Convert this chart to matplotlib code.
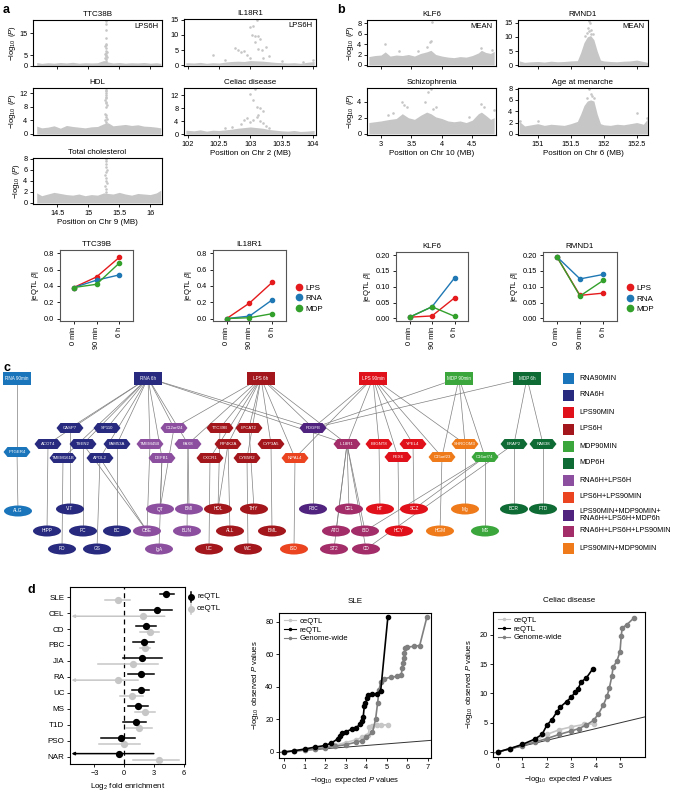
import matplotlib
matplotlib.use("Agg")
import matplotlib.pyplot as plt
from matplotlib.patches import Ellipse, Polygon, Rectangle

plt.rcParams["font.family"] = ["Liberation Sans", "DejaVu Sans"]
plt.rcParams["mathtext.fontset"] = "custom"
plt.rcParams["mathtext.rm"] = "Liberation Sans"
plt.rcParams["mathtext.it"] = "Liberation Sans:italic"
plt.rcParams["font.size"] = 5.5
plt.rcParams["axes.linewidth"] = 0.8
plt.rcParams["xtick.major.size"] = 2.5
plt.rcParams["ytick.major.size"] = 2.5
plt.rcParams["xtick.major.width"] = 0.6
plt.rcParams["ytick.major.width"] = 0.6
plt.rcParams["xtick.major.pad"] = 1.5
plt.rcParams["ytick.major.pad"] = 1.5
plt.rcParams["xtick.labelsize"] = 5.3
plt.rcParams["ytick.labelsize"] = 5.3

# ---------------- panel a/b : regional association plots ----------------
x9 = [14.17, 14.25, 14.35, 14.45, 14.55, 14.65, 14.75, 14.85, 14.95, 15.05, 15.15,
      15.25, 15.32, 15.4, 15.5, 15.6, 15.7, 15.8, 15.9, 16.0, 16.1, 16.17]
ttc_env = [1.6, 1.2, 1.5, 1.3, 1.6, 1.4, 1.7, 1.3, 1.5, 1.4, 1.5, 2.5, 1.8, 1.4, 1.6,
           1.3, 1.5, 1.4, 1.6, 1.3, 1.5, 1.2]
hdl_env = [2.3, 1.8, 2.0, 2.4, 1.7, 2.5, 2.2, 2.0, 1.8, 2.1, 2.2, 3.0, 3.3, 2.4, 2.6,
           2.8, 2.5, 2.7, 2.3, 2.2, 2.0, 1.8]
tc_env = [1.8, 1.3, 1.6, 1.9, 1.7, 1.5, 1.4, 1.6, 1.3, 1.5, 1.4, 1.8, 1.7, 1.6, 1.9,
          1.6, 1.4, 1.7, 1.6, 1.5, 1.8, 2.3]
ttc_pk_x = [15.28, 15.29, 15.27, 15.3, 15.28, 15.29, 15.27, 15.28, 15.3, 15.29, 15.28,
            15.27, 15.29, 15.28, 15.29, 15.28, 15.29, 15.28, 15.28]
ttc_pk_y = [2.5, 3, 3.5, 4, 4.5, 5, 5.5, 6, 6.5, 7, 8, 9, 9.5, 10, 13, 16.5, 19, 20.5, 21.5]
hdl_pk_x = [15.28, 15.29, 15.27, 15.3, 15.28, 15.29, 15.27, 15.28, 15.3, 15.29, 15.28,
            15.27, 15.29, 15.28, 15.29, 15.28, 15.29, 15.28, 15.28]
hdl_pk_y = [3, 3.5, 4, 4.5, 5, 5.5, 6, 8, 8.5, 9, 9.5, 10, 10.5, 11, 11.5, 12, 12.5, 13, 13.5]
tc_pk_x = [15.28, 15.29, 15.27, 15.3, 15.28, 15.29, 15.27, 15.28, 15.3, 15.29, 15.28,
           15.28, 15.29]
tc_pk_y = [2, 2.5, 3, 3.5, 4, 4.5, 5, 5.5, 6, 6.5, 7, 7.5, 8]

x2 = [101.97, 102.1, 102.2, 102.3, 102.4, 102.5, 102.6, 102.7, 102.8, 102.9, 103.0,
      103.1, 103.2, 103.3, 103.4, 103.5, 103.6, 103.7, 103.8, 103.9, 104.02]
il_env = [0.8, 0.7, 0.9, 0.6, 0.8, 0.7, 1.0, 1.2, 1.3, 1.2, 1.5, 1.4, 1.3, 1.1, 0.9,
          0.8, 0.7, 0.8, 0.6, 0.9, 1.2]
cel_env = [1.2, 1.0, 1.3, 0.9, 1.2, 1.1, 1.3, 1.5, 1.8, 2.0, 2.2, 2.0, 1.8, 1.4, 1.2,
           1.0, 0.9, 1.1, 0.8, 0.9, 1.1]
il_pk_x = [102.4, 102.75, 102.8, 102.85, 102.9, 102.95, 103.0, 103.05, 103.08, 103.1,
           103.02, 103.07, 103.12, 103.15, 103.08, 103.12, 103.18, 103.25, 103.0, 103.2,
           103.3, 102.6, 103.5, 103.85, 104.0]
il_pk_y = [3.3, 5.8, 5.0, 4.3, 4.8, 3.5, 12.5, 13, 15.5, 15, 10, 9.8, 9.5, 8.5, 7.5,
           5.2, 5.0, 6.0, 2.5, 2.3, 3.0, 1.8, 1.5, 1.0, 1.6]
cel_pk_x = [103.0, 103.08, 103.05, 103.1, 103.15, 103.2, 103.12, 103.1, 103.05, 102.95,
            102.9, 103.0, 103.15, 103.2, 102.85, 103.25, 103.3, 102.7, 102.6]
cel_pk_y = [12.5, 14, 10.5, 8.5, 8, 7.3, 6, 5.3, 4.5, 5, 4.3, 3.8, 4, 3.5, 3, 2.5, 2,
            2.2, 1.8]

x10 = [2.8, 2.9, 3.0, 3.07, 3.15, 3.25, 3.35, 3.45, 3.55, 3.65, 3.75, 3.82, 3.9, 4.0,
       4.1, 4.2, 4.3, 4.4, 4.5, 4.6, 4.65, 4.72, 4.8, 4.86]
klf_env = [1.6, 1.8, 1.9, 2.5, 1.7, 1.9, 1.8, 2.0, 1.7, 2.2, 2.5, 2.8, 2.0, 1.7, 1.5,
           1.4, 1.6, 1.5, 1.8, 2.3, 2.8, 2.4, 2.2, 2.6]
scz_env = [1.4, 1.5, 1.6, 1.7, 1.8, 1.9, 2.5, 2.0, 1.8, 2.3, 2.7, 2.5, 2.1, 1.9, 1.6,
           1.5, 1.6, 1.4, 1.7, 2.5, 2.7, 2.3, 1.8, 2.0]
klf_pk_x = [3.07, 3.3, 3.6, 3.75, 3.8, 3.82, 3.83, 4.65, 4.82]
klf_pk_y = [4.0, 2.7, 2.6, 3.5, 4.3, 4.5, 8.3, 3.3, 2.9]
scz_pk_x = [3.35, 3.38, 3.42, 3.73, 3.77, 3.82, 3.85, 3.9, 3.12, 3.2, 4.45, 4.65, 4.7, 4.85]
scz_pk_y = [3.9, 3.6, 3.3, 4.0, 5.2, 5.6, 3.1, 3.3, 2.3, 2.6, 2.1, 3.7, 3.3, 2.9]

x6 = [150.72, 150.8, 150.9, 151.0, 151.1, 151.2, 151.3, 151.4, 151.5, 151.6, 151.65,
      151.7, 151.75, 151.8, 151.85, 151.9, 151.95, 152.0, 152.1, 152.2, 152.3, 152.4,
      152.5, 152.6, 152.66]
rm_env = [1.5, 1.0, 1.2, 1.3, 1.1, 1.4, 1.2, 1.3, 1.5, 1.6, 4.5, 8, 10, 10.5, 9, 5, 1.8,
          1.5, 1.3, 1.2, 1.4, 1.5, 1.8, 1.3, 1.0]
men_env = [2.2, 1.4, 1.6, 1.8, 1.5, 1.7, 1.6, 1.5, 1.8, 2.2, 3.5, 5, 5.8, 6, 5.8, 3.5,
           1.8, 1.6, 1.5, 1.7, 1.6, 1.8, 2.0, 1.7, 2.6]
rm_pk_x = [151.78, 151.79, 151.76, 151.81, 151.77, 151.74, 151.83, 151.80, 151.72]
rm_pk_y = [15.8, 14.8, 13.2, 12.6, 12.0, 11.4, 11, 10.9, 10.5]
men_pk_x = [151.78, 151.8, 151.85, 151.75, 151.82, 150.73, 151.0, 152.5, 152.65]
men_pk_y = [8.0, 7.0, 6.3, 6.4, 6.6, 2.3, 2.3, 3.7, 2.8]

# ---------------- eQTL effect sizes ----------------
timepoints = ["0 min", "90 min", "6 h"]
ttc_beta = {"LPS": [0.38, 0.51, 0.75], "RNA": [0.38, 0.47, 0.535], "MDP": [0.38, 0.42, 0.68]}
il_beta = {"LPS": [0.0, 0.19, 0.445], "RNA": [0.0, 0.03, 0.23], "MDP": [0.0, 0.01, 0.06]}
klf_beta = {"LPS": [0.004, 0.008, 0.065], "RNA": [0.004, 0.037, 0.128], "MDP": [0.004, 0.037, 0.007]}
rm_beta = {"LPS": [0.195, 0.073, 0.080], "RNA": [0.195, 0.125, 0.139], "MDP": [0.195, 0.071, 0.120]}
stim_colors = {"LPS": "#e41a1c", "RNA": "#1f78b4", "MDP": "#33a02c"}

# ---------------- panel c : network ----------------
group_names = ["RNA90MIN", "RNA6H", "LPS90MIN", "LPS6H", "MDP90MIN", "MDP6H",
               "RNA6H+LPS6H", "LPS6H+LPS90MIN",
               "LPS90MIN+MDP90MIN+\nRNA6H+LPS6H+MDP6h",
               "RNA6H+LPS6H+LPS90MIN", "LPS90MIN+MDP90MIN"]
group_colors = ["#1b75bb", "#272a7e", "#e1111b", "#a2161c", "#3aa63b", "#0e6b34",
                "#8c4f9f", "#ea4420", "#50237f", "#a22d69", "#ee7a1a"]

box_nodes = ["RNA 90min", "RNA 6h", "LPS 6h", "LPS 90min", "MDP 90min", "MDP 6h"]
box_x = [17, 148, 261, 373, 459, 527]
box_y = [378, 378, 378, 378, 378, 378]
box_grp = [0, 1, 3, 2, 4, 5]

hex_nodes = ["PTGER4", "CASP7", "SP110", "C12orf24", "TTC39B", "LPCAT2", "PDGFB",
             "ACOT4", "TSEN2", "FAM53A", "TMEM45B", "PAX8", "PIP4K2A", "CYP3A5",
             "IL18R1", "B3GNT8", "YPEL4", "SHROOM3", "ERAP2", "RAB38",
             "TMEM161B", "APOL2", "DEFB1", "CXCR1", "CYB5R2", "NIPAL4", "PEX6",
             "C15orf23", "C16orf74"]
hex_x = [17, 70, 107, 174, 220, 249, 313,
         48, 83, 117, 150, 188, 228, 271, 347, 379, 413, 465, 514, 543,
         63, 100, 162, 210, 247, 295, 398, 442, 485]
hex_y = [452, 428, 428, 428, 428, 428, 428,
         444, 444, 444, 444, 444, 444, 444, 444, 444, 444, 444, 444, 444,
         458, 458, 458, 458, 458, 458, 457, 457, 457]
hex_grp = [0, 1, 1, 6, 3, 3, 8,
           1, 1, 1, 6, 6, 3, 3, 9, 2, 2, 10, 5, 5,
           1, 1, 6, 3, 3, 7, 2, 10, 4]

trait_nodes = ["ALG", "VIT", "QT", "BMI", "HDL", "THY", "PBC", "CEL", "HT", "SCZ", "Mg",
               "BCR", "FTD",
               "HIPP", "PC", "BC", "OBE", "BUN", "ALL", "BML", "ATO", "IBD", "HCY",
               "HGM", "MS",
               "PD", "GS", "IgA", "UC", "WC", "ISD", "ST2", "CD"]
trait_x = [18, 70, 160, 189, 218, 254, 313, 349, 380, 414, 465, 514, 543,
           47, 83, 117, 147, 187, 230, 272, 336, 365, 399, 440, 485,
           62, 97, 159, 209, 248, 294, 334, 366]
trait_y = [511, 509, 509, 509, 509, 509, 509, 509, 509, 509, 509, 509, 509,
           531, 531, 531, 531, 531, 531, 531, 531, 531, 531, 531, 531,
           549, 549, 549, 549, 549, 549, 549, 549]
trait_grp = [0, 1, 6, 6, 3, 3, 8, 9, 2, 2, 10, 5, 5,
             1, 1, 1, 6, 6, 3, 3, 9, 9, 2, 10, 4,
             1, 1, 6, 3, 3, 7, 9, 9]

edges = [
    ("RNA 90min", "PTGER4"), ("PTGER4", "ALG"),
    ("RNA 6h", "CASP7"), ("RNA 6h", "SP110"), ("RNA 6h", "ACOT4"), ("RNA 6h", "TSEN2"),
    ("RNA 6h", "FAM53A"), ("RNA 6h", "APOL2"), ("RNA 6h", "TMEM45B"),
    ("RNA 6h", "C12orf24"), ("RNA 6h", "PAX8"), ("RNA 6h", "DEFB1"),
    ("RNA 6h", "PDGFB"), ("RNA 6h", "IL18R1"), ("RNA 6h", "TMEM161B"),
    ("LPS 6h", "C12orf24"), ("LPS 6h", "TTC39B"), ("LPS 6h", "LPCAT2"),
    ("LPS 6h", "PIP4K2A"), ("LPS 6h", "CXCR1"), ("LPS 6h", "CYB5R2"),
    ("LPS 6h", "CYP3A5"), ("LPS 6h", "NIPAL4"), ("LPS 6h", "PDGFB"),
    ("LPS 6h", "IL18R1"), ("LPS 6h", "PAX8"),
    ("LPS 90min", "PDGFB"), ("LPS 90min", "IL18R1"), ("LPS 90min", "B3GNT8"),
    ("LPS 90min", "PEX6"), ("LPS 90min", "YPEL4"), ("LPS 90min", "C15orf23"),
    ("LPS 90min", "SHROOM3"), ("LPS 90min", "NIPAL4"),
    ("MDP 90min", "PDGFB"), ("MDP 90min", "C15orf23"), ("MDP 90min", "SHROOM3"),
    ("MDP 90min", "C16orf74"),
    ("MDP 6h", "PDGFB"), ("MDP 6h", "ERAP2"), ("MDP 6h", "RAB38"),
    ("ACOT4", "HIPP"), ("TMEM161B", "PD"), ("CASP7", "VIT"), ("TSEN2", "PC"),
    ("TSEN2", "OBE"), ("APOL2", "GS"), ("APOL2", "OBE"), ("FAM53A", "BC"),
    ("TMEM45B", "OBE"), ("DEFB1", "QT"), ("DEFB1", "IgA"), ("C12orf24", "QT"),
    ("PAX8", "BMI"), ("PAX8", "BUN"), ("TTC39B", "HDL"), ("PIP4K2A", "HDL"),
    ("PIP4K2A", "ALL"), ("CXCR1", "UC"), ("LPCAT2", "THY"), ("CYB5R2", "WC"),
    ("CYP3A5", "BML"), ("NIPAL4", "ISD"), ("PDGFB", "PBC"), ("IL18R1", "CEL"),
    ("IL18R1", "ATO"), ("IL18R1", "IBD"), ("IL18R1", "ST2"), ("IL18R1", "CD"),
    ("B3GNT8", "HT"), ("YPEL4", "SCZ"), ("PEX6", "HCY"), ("C15orf23", "HGM"),
    ("SHROOM3", "Mg"), ("C16orf74", "MS"), ("C16orf74", "IBD"), ("C16orf74", "SCZ"),
    ("ERAP2", "CD"), ("ERAP2", "BCR"), ("RAB38", "FTD"),
]

# ---------------- panel d : enrichment ----------------
diseases = ["SLE", "CEL", "CD", "PBC", "JIA", "RA", "UC", "MS", "T1D", "PSO", "NAR"]
re_est = [4.23, 3.3, 2.23, 1.97, 1.83, 1.73, 1.67, 1.4, 1.13, -0.37, -0.53]
re_lo = [3.57, 1.63, 1.17, 0.9, -0.17, 0.33, 0.73, 0.33, -0.1, -2.33, -6.5]
re_hi = [4.97, 4.83, 3.23, 3.03, 3.8, 3.0, 2.5, 2.4, 2.23, 1.07, 2.97]
ce_est = [-0.6, 1.9, 2.57, 2.13, 0.9, -0.6, 0.8, 2.07, 1.5, -0.03, 3.47]
ce_lo = [-1.9, -6.5, 1.57, 1.57, -2.6, -6.5, -0.43, 1.07, 0.17, -2.57, 0.9]
ce_hi = [0.57, 4.07, 3.5, 2.63, 3.4, 1.4, 1.9, 3.07, 2.83, 1.57, 5.5]

sle_ce_x = [0, 0.5, 1, 1.5, 2, 2.5, 3, 3.5, 3.8, 4.0, 4.1, 4.15, 4.3, 4.5, 4.7, 5.05]
sle_ce_y = [0, 0.6, 1.2, 2, 3, 4.2, 5.8, 7.5, 9, 9.8, 10.5, 15.5, 16, 16.3, 16.5, 16.8]
sle_re_x = [0, 0.5, 1, 1.5, 2, 2.3, 2.6, 2.7, 2.8, 3.0, 3.3, 3.5, 3.7, 3.8, 3.85, 3.9,
            3.95, 4.05, 4.1, 4.3, 4.5, 4.7, 5.05]
sle_re_y = [0, 0.8, 1.8, 3, 4, 5.5, 8, 10, 11.5, 12.5, 14, 15, 17, 19, 21.5, 28, 30, 33,
            35, 35.5, 35.8, 37.5, 83]
sle_gw_x = [0, 0.5, 1, 1.5, 2, 2.5, 3, 3.5, 3.8, 4.0, 4.3, 4.45, 4.55, 4.62, 4.7, 4.85,
            5.2, 5.5, 5.7, 5.75, 5.78, 5.82, 5.85, 5.9, 6.0, 6.3, 6.6, 6.95]
sle_gw_y = [0, 0.6, 1.2, 1.8, 2.6, 3.5, 4.5, 6, 7, 9, 12, 20, 30, 38, 43, 45, 46, 46.5,
            47.5, 51.5, 55, 58, 61, 64, 64.5, 65, 65.5, 83]
cel_ce_x = [0, 0.5, 1, 1.5, 2, 2.5, 3, 3.5, 3.9]
cel_ce_y = [0, 0.6, 1.2, 1.9, 3, 3.8, 4.3, 4.7, 4.8]
cel_re_x = [0, 0.5, 1, 1.5, 1.8, 2.0, 2.2, 2.4, 2.55, 2.8, 3.0, 3.15, 3.27, 3.4, 3.6, 3.87]
cel_re_y = [0, 0.6, 1.3, 2.2, 3.0, 4.6, 5.5, 6.8, 7.7, 8.6, 9.4, 10.2, 10.8, 12.0, 12.6, 14.2]
cel_gw_x = [0, 0.5, 1, 1.5, 2, 2.5, 3, 3.3, 3.6, 3.9, 4.1, 4.3, 4.45, 4.55, 4.65, 4.7,
            4.85, 4.98, 5.03, 5.07, 5.25, 5.55]
cel_gw_y = [0, 0.6, 1.1, 1.7, 2.3, 3.0, 3.6, 4.0, 4.6, 5.4, 6.5, 8, 9.5, 11, 13, 14.5,
            15.5, 17.1, 19.8, 21.2, 21.7, 22.9]

GRAY = "#c6c6c6"
W, H = 675.0, 799.0
fig = plt.figure(figsize=(6.75, 7.99), dpi=100)

# full-figure pixel-space axes for letters, network and hand-made legends
net = fig.add_axes([0, 0, 1, 1])
net.set_xlim(0, W)
net.set_ylim(H, 0)
net.axis("off")


def add_ax(x0, y0, x1, y1):
    return fig.add_axes([x0 / W, 1 - y1 / H, (x1 - x0) / W, (y1 - y0) / H])


def manhattan(box, ex, ey, px, py, xlim, ylim, yticks, xticks, title,
              tag=None, xlabel=None, ylab=False, show_xt=True):
    ax = add_ax(*box)
    ax.fill_between(ex, 0, ey, color=GRAY, lw=0)
    ax.scatter(px, py, s=3.5, color=GRAY, lw=0)
    ax.set_xlim(xlim)
    ax.set_ylim(ylim)
    ax.set_yticks(yticks)
    if show_xt:
        ax.set_xticks(xticks)
        if xlabel is None:
            ax.set_xticklabels([])
        else:
            ax.set_xticklabels([("%g" % t) for t in xticks])
            ax.set_xlabel(xlabel, fontsize=5.8, labelpad=2)
    else:
        ax.set_xticks([])
    ax.set_title(title, fontsize=5.8, pad=3)
    if tag:
        ax.text(0.97, 0.93, tag, transform=ax.transAxes, ha="right", va="top", fontsize=5.5)
    if ylab:
        ax.set_ylabel(r"$-\log_{10}$ ($P$)", fontsize=5.5, labelpad=1)
    return ax


manhattan((33, 20, 162, 66), x9, ttc_env, ttc_pk_x, ttc_pk_y, (14.11, 16.19), (0, 21),
          [0, 5, 15], [14.5, 15, 15.5, 16], "TTC38B", "LPS6H", ylab=True)
manhattan((33, 88, 162, 135), x9, hdl_env, hdl_pk_x, hdl_pk_y, (14.11, 16.19), (-0.3, 13.5),
          [0, 4, 8, 12], [], "HDL", ylab=True, show_xt=False)
manhattan((33, 158, 162, 204), x9, tc_env, tc_pk_x, tc_pk_y, (14.11, 16.19), (-0.2, 8.1),
          [0, 2, 4, 6, 8], [14.5, 15, 15.5, 16], "Total cholesterol",
          xlabel="Position on Chr 9 (MB)", ylab=True)
manhattan((184, 19, 316, 66), x2, il_env, il_pk_x, il_pk_y, (101.94, 104.05), (-0.3, 15.3),
          [0, 5, 10, 15], [102, 102.5, 103, 103.5, 104], "IL18R1", "LPS6H")
manhattan((184, 88, 316, 135), x2, cel_env, cel_pk_x, cel_pk_y, (101.94, 104.05), (-0.3, 14.3),
          [0, 4, 8, 12], [102, 102.5, 103, 103.5, 104], "Celiac disease",
          xlabel="Position on Chr 2 (MB)")
manhattan((367, 20, 496, 66), x10, klf_env, klf_pk_x, klf_pk_y, (2.77, 4.89), (-0.2, 8.6),
          [0, 2, 4, 6, 8], [3, 3.5, 4, 4.5], "KLF6", "MEAN", ylab=True)
manhattan((367, 88, 496, 135), x10, scz_env, scz_pk_x, scz_pk_y, (2.77, 4.89), (-0.15, 5.7),
          [0, 2, 4], [3, 3.5, 4, 4.5], "Schizophrenia",
          xlabel="Position on Chr 10 (MB)", ylab=True)
manhattan((518, 20, 648, 66), x6, rm_env, rm_pk_x, rm_pk_y, (150.70, 152.67), (-0.3, 16.0),
          [0, 5, 10, 15], [151, 151.5, 152, 152.5], "RMND1", "MEAN")
manhattan((518, 88, 648, 135), x6, men_env, men_pk_x, men_pk_y, (150.70, 152.67), (-0.2, 8.1),
          [0, 2, 4, 6, 8], [151, 151.5, 152, 152.5], "Age at menarche",
          xlabel="Position on Chr 6 (MB)")


def beta_plot(box, data, title, yticks, ylim, fmt, legend_x=None):
    ax = add_ax(*box)
    for stim in ["LPS", "RNA", "MDP"]:
        ax.plot(range(3), data[stim], "-o", color=stim_colors[stim], lw=1, ms=3,
                label=stim)
    ax.set_xlim(-0.6, 2.6)
    ax.set_ylim(ylim)
    ax.set_yticks(yticks)
    ax.set_yticklabels([fmt % t for t in yticks])
    ax.set_xticks(range(3))
    ax.set_xticklabels(timepoints, rotation=90)
    ax.set_title(title, fontsize=5.8, pad=3)
    ax.set_ylabel(r"|eQTL $\beta$|", fontsize=5.5, labelpad=2)
    for s in ax.spines.values():
        s.set_color("#555555")
    if legend_x is not None:
        ax.legend(loc="center left", bbox_to_anchor=(legend_x, 0.32), frameon=False,
                  fontsize=5.8, handlelength=0.6, handletextpad=0.5, labelspacing=0.35,
                  markerscale=1.5, borderaxespad=0)
        for line in ax.get_legend().get_lines():
            line.set_linestyle("none")
    return ax


beta_plot((60, 250, 133, 321), ttc_beta, "TTC39B", [0, 0.2, 0.4, 0.6, 0.8],
          (-0.03, 0.84), "%.1f")
beta_plot((213, 250, 286, 321), il_beta, "IL18R1", [0, 0.2, 0.4, 0.6, 0.8],
          (-0.03, 0.84), "%.1f", legend_x=1.1)
beta_plot((396, 252, 468, 321), klf_beta, "KLF6", [0, 0.05, 0.1, 0.15, 0.2],
          (-0.008, 0.21), "%.2f")
beta_plot((543, 252, 617, 321), rm_beta, "RMND1", [0, 0.05, 0.1, 0.15, 0.2],
          (-0.008, 0.21), "%.2f", legend_x=1.1)

# ---------------- network ----------------
pos = {}
for n, x, y in zip(box_nodes, box_x, box_y):
    pos[n] = (x, y)
for n, x, y in zip(hex_nodes, hex_x, hex_y):
    pos[n] = (x, y)
for n, x, y in zip(trait_nodes, trait_x, trait_y):
    pos[n] = (x, y)

for a, b in edges:
    (xa, ya), (xb, yb) = pos[a], pos[b]
    net.plot([xa, xb], [ya, yb], color="#808080", lw=0.5, zorder=1)

for n, x, y, g in zip(box_nodes, box_x, box_y, box_grp):
    net.add_patch(Rectangle((x - 14, y - 6.5), 28, 13, facecolor=group_colors[g],
                            edgecolor="none", zorder=2))
    net.text(x, y, n, color="white", fontsize=3.3, ha="center", va="center", zorder=3)
for n, x, y, g in zip(hex_nodes, hex_x, hex_y, hex_grp):
    w, h, d = 27, 10, 4
    pts = [(x - w / 2, y), (x - w / 2 + d, y - h / 2), (x + w / 2 - d, y - h / 2),
           (x + w / 2, y), (x + w / 2 - d, y + h / 2), (x - w / 2 + d, y + h / 2)]
    net.add_patch(Polygon(pts, closed=True, facecolor=group_colors[g], edgecolor="none",
                          zorder=2))
    net.text(x, y, n, color="white", fontsize=3.1, ha="center", va="center", zorder=3)
for n, x, y, g in zip(trait_nodes, trait_x, trait_y, trait_grp):
    net.add_patch(Ellipse((x, y), 28, 11, facecolor=group_colors[g], edgecolor="none",
                          zorder=2))
    net.text(x, y, n, color="white", fontsize=3.4, ha="center", va="center", zorder=3)

leg_y = [378, 395, 412, 429, 446, 463, 480, 497, 515, 531, 548]
for name, col, y in zip(group_names, group_colors, leg_y):
    net.add_patch(Rectangle((563, y - 5.5), 11, 11, facecolor=col, edgecolor="none"))
    net.text(579, y, name, fontsize=5.2, ha="left", va="center", linespacing=1.1)

# ---------------- forest plot ----------------
ax = add_ax(70, 587, 185, 764)
xl = (-5.45, 6.1)
for est, lo, hi, col, off, z in [(re_est, re_lo, re_hi, "black", -0.2, 3),
                                 (ce_est, ce_lo, ce_hi, GRAY, 0.2, 2)]:
    for i, (e, l, h) in enumerate(zip(est, lo, hi)):
        y = i + off
        if l < xl[0]:
            ax.annotate("", xy=(xl[0] + 0.15, y), xytext=(h, y),
                        arrowprops=dict(arrowstyle="-|>", color=col, lw=1.1,
                                        mutation_scale=4, shrinkA=0, shrinkB=0),
                        zorder=z)
        else:
            ax.plot([l, h], [y, y], color=col, lw=1.1, zorder=z)
        ax.plot([e], [y], "o", color=col, ms=4.2, zorder=z + 1)
ax.axvline(0, color="black", lw=0.9, ls=(0, (4, 3)), zorder=1)
ax.set_xlim(xl)
ax.set_ylim(10.45, -0.63)
ax.set_yticks(range(len(diseases)))
ax.set_yticklabels(diseases, fontsize=5.8)
ax.set_xticks([-3, 0, 3, 6])
ax.set_xlabel(r"Log$_2$ fold enrichment", fontsize=5.8, labelpad=3)

for y, col, lab in [(597, "black", "reQTL"), (609, GRAY, "ceQTL")]:
    net.plot([191, 191], [y - 5, y + 5], color=col, lw=1.1)
    net.plot([191], [y], "o", color=col, ms=4)
    net.text(197, y, lab, fontsize=5.8, va="center")


def qq_plot(box, series, title, xlim, ylim, xticks, yticks):
    ax = add_ax(*box)
    ax.axline((0, 0), slope=1, color="#333333", lw=0.7, zorder=1)
    for (x, y, col, lab, z) in series:
        ax.plot(x, y, "-o", color=col, ms=3.0, lw=1.2, label=lab, zorder=z)
    ax.set_xlim(xlim)
    ax.set_ylim(ylim)
    ax.set_xticks(xticks)
    ax.set_yticks(yticks)
    ax.set_title(title, fontsize=5.8, pad=7)
    ax.set_xlabel(r"$-\log_{10}$ expected $P$ values", fontsize=5.6, labelpad=3)
    ax.set_ylabel(r"$-\log_{10}$ observed $P$ values", fontsize=5.6, labelpad=3)
    leg = ax.legend(loc="upper left", frameon=False, fontsize=5.6, handlelength=1.6,
                    labelspacing=0.15, borderaxespad=0.2, handletextpad=0.4,
                    markerscale=0.5)
    for line in leg.get_lines():
        line.set_linewidth(0.8)
    return ax


qq_plot((279, 613, 431, 758),
        [(sle_ce_x, sle_ce_y, GRAY, "ceQTL", 2), (sle_re_x, sle_re_y, "black", "reQTL", 4),
         (sle_gw_x, sle_gw_y, "#7f7f7f", "Genome-wide", 3)],
        "SLE", (-0.25, 7.15), (-3.7, 85.5), range(8), [0, 20, 40, 60, 80])
qq_plot((493, 612, 645, 757),
        [(cel_ce_x, cel_ce_y, GRAY, "ceQTL", 2), (cel_re_x, cel_re_y, "black", "reQTL", 4),
         (cel_gw_x, cel_gw_y, "#7f7f7f", "Genome-wide", 3)],
        "Celiac disease", (-0.2, 6.0), (-0.85, 23.9), range(6), [0, 5, 10, 15, 20])

for lab, x, y in [("a", 3, 10), ("b", 337, 10), ("c", 3, 368), ("d", 27, 590)]:
    net.text(x, y, lab, fontsize=9, fontweight="bold", ha="left", va="center")

fig.savefig("out.png", dpi=100)
